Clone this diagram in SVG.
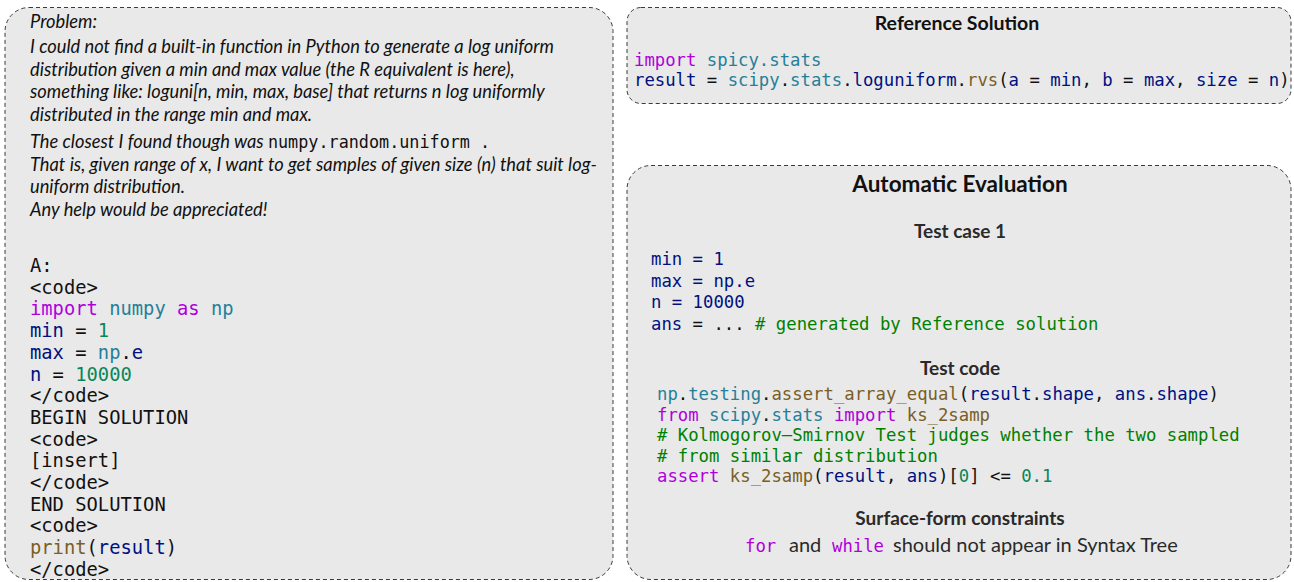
<svg xmlns="http://www.w3.org/2000/svg" width="1294" height="582" viewBox="0 0 1294 582" xml:space="preserve">
<style>
.box{fill:#e9e9e9;stroke:#3a3a3a;stroke-width:1;stroke-dasharray:4 3}
.it{font-family:Lato,"Liberation Sans",sans-serif;font-style:italic;font-size:18.3px;fill:#111}
.mono{font-family:"DejaVu Sans Mono",monospace;fill:#111}
.lc{font-size:18.8px}
.rc{font-size:17.3px}
.title{font-family:Lato,"Liberation Sans",sans-serif;font-weight:bold;fill:#111;text-anchor:middle}
.sub{font-family:Lato,"Liberation Sans",sans-serif;font-weight:bold;font-size:19px;fill:#2a2a2a;text-anchor:middle}
.sans{font-family:Lato,"Liberation Sans",sans-serif;font-size:20px;fill:#2a2a2a}
.kw{fill:#af00db}.ty{fill:#267f99}.var{fill:#001080}.num{fill:#098658}.fn{fill:#795e26}.cm{fill:#008000}
</style>
<g id="connectors"/>
<g id="problem-box">
<rect class="box" x="5" y="7.5" width="608" height="572" rx="24" ry="24"/>
<text class="it" x="30" y="28">Problem:</text>
<text class="it" x="30" y="53">I could not find a built-in function in Python to generate a log uniform</text>
<text class="it" x="30" y="76">distribution given a min and max value (the R equivalent is here),</text>
<text class="it" x="30" y="98">something like: loguni[n, min, max, base] that returns n log uniformly</text>
<text class="it" x="30" y="121">distributed in the range min and max.</text>
<text class="it" x="30" y="148">The closest I found though was <tspan class="mono" style="font-style:normal;font-size:16.8px">numpy.random.uniform .</tspan></text>
<text class="it" x="30" y="171">That is, given range of x, I want to get samples of given size (n) that suit log-</text>
<text class="it" x="30" y="193">uniform distribution.</text>
<text class="it" x="30" y="216">Any help would be appreciated!</text>
<text class="mono lc" x="30" y="272">A:</text>
<text class="mono lc" x="30" y="293.5">&lt;code&gt;</text>
<text class="mono lc" x="30" y="315"><tspan class="kw">import</tspan> <tspan class="ty">numpy</tspan> <tspan class="kw">as</tspan> <tspan class="ty">np</tspan></text>
<text class="mono lc" x="30" y="337"><tspan class="var">min</tspan> = <tspan class="num">1</tspan></text>
<text class="mono lc" x="30" y="359"><tspan class="var">max</tspan> = <tspan class="ty">np</tspan>.<tspan class="var">e</tspan></text>
<text class="mono lc" x="30" y="380.5"><tspan class="var">n</tspan> = <tspan class="num">10000</tspan></text>
<text class="mono lc" x="30" y="402">&lt;/code&gt;</text>
<text class="mono lc" x="30" y="424">BEGIN SOLUTION</text>
<text class="mono lc" x="30" y="445.5">&lt;code&gt;</text>
<text class="mono lc" x="30" y="467">[insert]</text>
<text class="mono lc" x="30" y="489">&lt;/code&gt;</text>
<text class="mono lc" x="30" y="510.5">END SOLUTION</text>
<text class="mono lc" x="30" y="532">&lt;code&gt;</text>
<text class="mono lc" x="30" y="554"><tspan class="fn">print</tspan>(<tspan class="var">result</tspan>)</text>
<text class="mono lc" x="30" y="575.5">&lt;/code&gt;</text>
</g>
<g id="reference-box">
<rect class="box" x="627" y="7.5" width="664" height="96" rx="14" ry="14"/>
<text class="title" x="957" y="30" style="font-size:19.5px">Reference Solution</text>
<text class="mono rc" x="634" y="66"><tspan class="kw">import</tspan> <tspan class="ty">spicy.stats</tspan></text>
<text class="mono rc" x="634" y="86"><tspan class="var">result</tspan> = <tspan class="ty">scipy</tspan>.<tspan class="ty">stats</tspan>.<tspan class="var">loguniform</tspan>.<tspan class="fn">rvs</tspan>(<tspan class="var">a</tspan> = <tspan class="var">min</tspan>, <tspan class="var">b</tspan> = <tspan class="var">max</tspan>, <tspan class="var">size</tspan> = <tspan class="var">n</tspan>)</text>
</g>
<g id="evaluation-box">
<rect class="box" x="627" y="165.5" width="664" height="414" rx="24" ry="24"/>
<text class="title" x="960" y="192" style="font-size:22.5px">Automatic Evaluation</text>
<text class="sub" x="960" y="238">Test case 1</text>
<text class="mono rc var" x="651" y="265">min = 1</text>
<text class="mono rc var" x="651" y="287">max = np.e</text>
<text class="mono rc var" x="651" y="308">n = 10000</text>
<text class="mono rc" x="651" y="330"><tspan class="var">ans</tspan> = ... <tspan class="cm"># generated by Reference solution</tspan></text>
<text class="sub" x="960" y="375">Test code</text>
<text class="mono rc" x="657" y="400"><tspan class="ty">np</tspan>.<tspan class="ty">testing</tspan>.<tspan class="fn">assert_array_equal</tspan>(<tspan class="var">result</tspan>.<tspan class="var">shape</tspan>, <tspan class="var">ans</tspan>.<tspan class="var">shape</tspan>)</text>
<text class="mono rc" x="657" y="420.5"><tspan class="kw">from</tspan> <tspan class="ty">scipy</tspan>.<tspan class="ty">stats</tspan> <tspan class="kw">import</tspan> <tspan class="fn">ks_2samp</tspan></text>
<text class="mono rc cm" x="657" y="441"># Kolmogorov–Smirnov Test judges whether the two sampled</text>
<text class="mono rc cm" x="657" y="461.5"># from similar distribution</text>
<text class="mono rc" x="657" y="482"><tspan class="kw">assert</tspan> <tspan class="fn">ks_2samp</tspan>(<tspan class="var">result</tspan>, <tspan class="var">ans</tspan>)[<tspan class="num">0</tspan>] &lt;= <tspan class="num">0.1</tspan></text>
<text class="sub" x="960" y="525">Surface-form constraints</text>
<text class="mono kw" x="745" y="552" style="font-size:17.3px">for</text>
<text class="sans" x="789" y="552">and</text>
<text class="mono kw" x="832" y="552" style="font-size:17.3px">while</text>
<text class="sans" x="893" y="552">should not appear in Syntax Tree</text>
</g>
</svg>
